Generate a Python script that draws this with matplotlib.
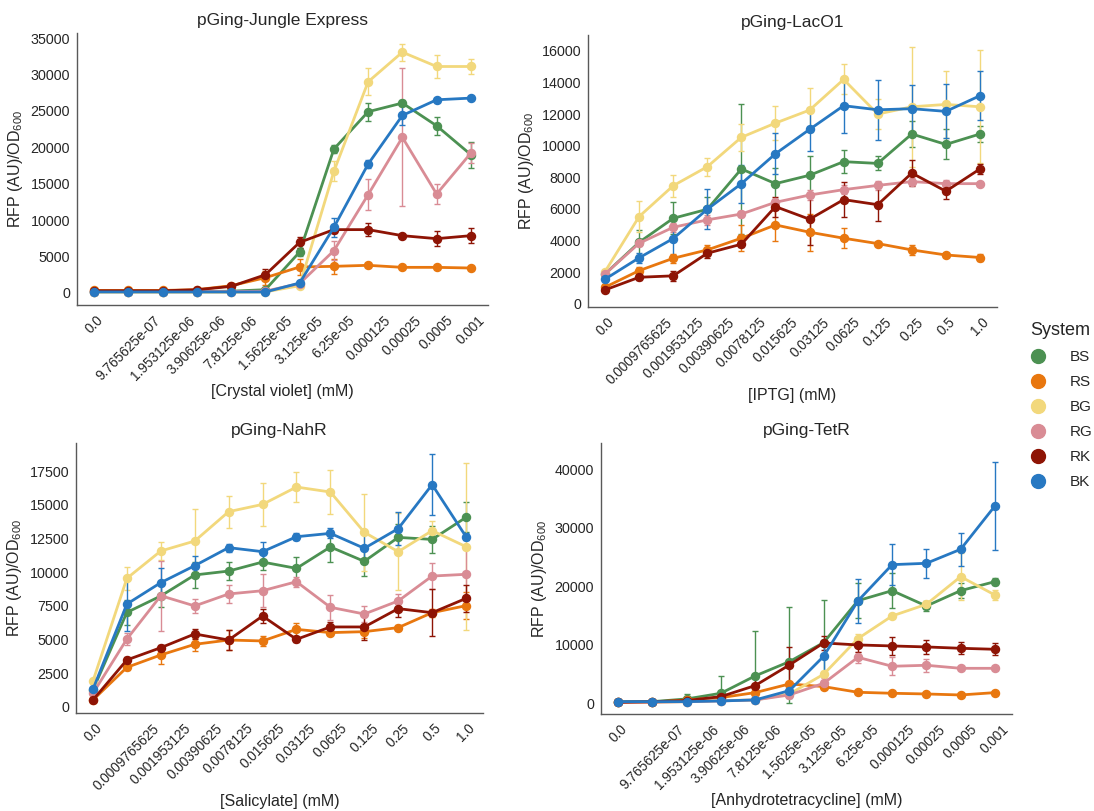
import numpy as np
import matplotlib
matplotlib.use("Agg")
import matplotlib.pyplot as plt
from matplotlib.lines import Line2D

plt.rcParams['font.family'] = ['Liberation Sans', 'DejaVu Sans']
plt.rcParams['mathtext.fontset'] = 'custom'
plt.rcParams['mathtext.rm'] = 'Liberation Sans'
plt.rcParams['text.color'] = '0.15'
plt.rcParams['axes.labelcolor'] = '0.15'
plt.rcParams['xtick.color'] = '0.15'
plt.rcParams['ytick.color'] = '0.15'

systems = ['BS', 'RS', 'BG', 'RG', 'RK', 'BK']
colors = ['#4c9152', '#e8770f', '#f2d87c', '#d98c95', '#8e1405', '#2778c2']

cv_ticks = ['0.0', '9.765625e-07', '1.953125e-06', '3.90625e-06', '7.8125e-06',
            '1.5625e-05', '3.125e-05', '6.25e-05', '0.000125', '0.00025', '0.0005', '0.001']
mm_ticks = ['0.0', '0.0009765625', '0.001953125', '0.00390625', '0.0078125',
            '0.015625', '0.03125', '0.0625', '0.125', '0.25', '0.5', '1.0']

# pGing-Jungle Express (crystal violet)
jungle_mean = [
    [200, 200, 200, 200, 250, 450, 5630, 19760, 24890, 26080, 22960, 18990],
    [350, 350, 350, 450, 1000, 2100, 3570, 3660, 3800, 3520, 3520, 3430],
    [100, 100, 100, 100, 100, 150, 1000, 16700, 29000, 33070, 31100, 31100],
    [200, 200, 200, 200, 200, 250, 1300, 5810, 13500, 21370, 13590, 19210],
    [300, 300, 300, 450, 900, 2500, 6950, 8700, 8700, 7870, 7460, 7870],
    [140, 140, 140, 140, 140, 140, 1370, 9010, 17700, 24380, 26530, 26760],
]
jungle_err = [
    [50, 50, 50, 50, 50, 150, 500, 500, 1250, 400, 1250, 1800],
    [50, 50, 50, 50, 200, 950, 1150, 1000, 100, 100, 100, 100],
    [50, 50, 50, 50, 50, 50, 200, 1370, 1870, 1160, 1600, 1030],
    [50, 50, 50, 50, 50, 50, 200, 1300, 2150, 9460, 1370, 1370],
    [50, 50, 50, 50, 200, 730, 730, 500, 910, 200, 1000, 1000],
    [50, 50, 50, 50, 50, 50, 300, 1300, 600, 1370, 200, 200],
]

# pGing-LacO1 (IPTG)
laco_mean = [
    [1890, 3890, 5410, 5980, 8530, 7600, 8130, 8990, 8880, 10740, 10080, 10740],
    [1050, 2100, 2880, 3410, 4150, 4990, 4530, 4150, 3810, 3410, 3090, 2930],
    [2040, 5520, 7470, 8670, 10530, 11430, 12250, 14190, 12000, 12460, 12610, 12460],
    [1890, 3830, 4840, 5310, 5680, 6420, 6880, 7220, 7490, 7730, 7600, 7600],
    [880, 1680, 1770, 3200, 3770, 6150, 5350, 6590, 6270, 8270, 7120, 8530],
    [1560, 2910, 4130, 5980, 7600, 9490, 11030, 12530, 12270, 12340, 12170, 13160],
]
laco_err = [
    [100, 780, 1000, 800, 4100, 1000, 1200, 740, 440, 850, 950, 500],
    [100, 200, 300, 300, 840, 990, 1160, 630, 100, 320, 100, 200],
    [100, 990, 700, 570, 840, 1100, 1400, 950, 950, 3780, 2100, 3570],
    [100, 200, 300, 300, 200, 200, 300, 300, 300, 200, 200, 100],
    [150, 150, 300, 300, 150, 630, 1600, 1100, 1050, 820, 500, 300],
    [100, 300, 1370, 1260, 1200, 1300, 1370, 1750, 1900, 1500, 1700, 1550],
]

# pGing-NahR (salicylate)
nahr_mean = [
    [1240, 7000, 8220, 9780, 10070, 10740, 10270, 11860, 10790, 12570, 12420, 14060],
    [500, 2920, 3840, 4630, 4950, 4880, 5740, 5500, 5570, 5870, 6980, 7500],
    [1900, 9530, 11560, 12300, 14480, 15020, 16310, 15940, 12950, 11510, 13070, 11880],
    [990, 5020, 8240, 7480, 8370, 8610, 9280, 7380, 6880, 7850, 9700, 9830],
    [500, 3470, 4380, 5400, 4950, 6730, 5000, 5920, 5920, 7280, 6980, 8040],
    [1290, 7620, 9210, 10470, 11810, 11510, 12620, 12870, 11760, 13220, 16490, 12620],
]
nahr_err = [
    [100, 900, 800, 990, 700, 600, 870, 1110, 1110, 1000, 990, 1110],
    [100, 200, 700, 500, 740, 370, 500, 200, 500, 200, 300, 990],
    [150, 870, 670, 2400, 1190, 1600, 1110, 1600, 2850, 2850, 740, 6200],
    [100, 450, 2600, 500, 700, 1240, 370, 940, 620, 500, 990, 2000],
    [100, 200, 200, 370, 740, 500, 200, 370, 1000, 620, 1730, 1000],
    [100, 1980, 1110, 740, 300, 740, 250, 370, 1100, 1240, 2280, 250],
]

# pGing-TetR (anhydrotetracycline)
tetr_mean = [
    [280, 280, 740, 1710, 4670, 7110, 10360, 17520, 19230, 16610, 19230, 20770],
    [170, 170, 570, 970, 1820, 3300, 2850, 1880, 1710, 1590, 1420, 1820],
    [170, 170, 280, 460, 570, 1590, 4950, 11040, 14910, 16900, 21620, 18490],
    [170, 170, 280, 400, 570, 1420, 3410, 7850, 6320, 6490, 5970, 5970],
    [170, 280, 460, 1140, 3020, 6540, 10300, 9960, 9790, 9620, 9390, 9220],
    [280, 280, 280, 400, 570, 2160, 8020, 17470, 23670, 23900, 26290, 33680],
]
tetr_err = [
    [100, 100, 850, 3000, 7700, 9400, 7300, 3000, 3000, 850, 1250, 570],
    [100, 100, 100, 200, 300, 300, 200, 200, 200, 200, 200, 200],
    [100, 100, 100, 100, 100, 300, 500, 850, 300, 300, 4000, 850],
    [100, 100, 100, 100, 100, 300, 850, 970, 1500, 1140, 300, 300],
    [100, 100, 100, 300, 1400, 3000, 1140, 1140, 1500, 1140, 1020, 1020],
    [100, 100, 100, 100, 100, 1200, 2850, 3700, 3500, 2450, 2850, 7500],
]

panels = [
    ('pGing-Jungle Express', '[Crystal violet] (mM)', cv_ticks, jungle_mean, jungle_err,
     [77, 33, 488, 305], (-1650, 35700)),
    ('pGing-LacO1', '[IPTG] (mM)', mm_ticks, laco_mean, laco_err,
     [588, 35, 997, 307], (-200, 17000)),
    ('pGing-NahR', '[Salicylate] (mM)', mm_ticks, nahr_mean, nahr_err,
     [76, 443, 483, 713], (-470, 19580)),
    ('pGing-TetR', '[Anhydrotetracycline] (mM)', cv_ticks, tetr_mean, tetr_err,
     [601, 443, 1012, 714], (-1830, 44440)),
]

W, H = 1094, 811
fig = plt.figure(figsize=(W / 100, H / 100), dpi=100)

for title, xlabel, ticks, means, errs, box, ylim in panels:
    l, t, r, b = box
    ax = fig.add_axes([l / W, 1 - b / H, (r - l) / W, (b - t) / H])
    x = np.arange(len(ticks))
    for name, col, m, e in zip(systems, colors, means, errs):
        m = np.array(m, dtype=float)
        e = np.array(e, dtype=float)
        # intervals don't go below zero
        yerr = [np.minimum(e, m), e]
        ax.errorbar(x, m, yerr=yerr, color=col, lw=2, marker='o', ms=5.8,
                    elinewidth=1, capsize=2.5, capthick=1, ecolor=col, label=name)
    ax.set_xlim(-0.5, len(ticks) - 0.5)
    ax.set_ylim(*ylim)
    ax.set_xticks(x)
    ax.set_xticklabels(ticks, rotation=45, ha='center', fontsize=9.8)
    ax.tick_params(axis='y', length=0, labelsize=10.3, pad=5)
    ax.tick_params(axis='x', length=0, pad=6)
    ax.set_title(title, fontsize=12.5, pad=6)
    ax.set_xlabel(xlabel, fontsize=11.5, labelpad=1)
    ax.set_ylabel(r'RFP (AU)/OD$_{600}$', fontsize=11.5)
    for side in ['top', 'right']:
        ax.spines[side].set_visible(False)
    for side in ['left', 'bottom']:
        ax.spines[side].set_color('0.35')
        ax.spines[side].set_linewidth(1)

handles = [Line2D([], [], ls='none', marker='o', ms=10, color=c) for c in colors]
leg = fig.legend(handles, systems, title='System', loc='center left',
                 bbox_to_anchor=(0.929, 0.5), frameon=False, fontsize=11,
                 title_fontsize=13, handlelength=1.0, handletextpad=1.6,
                 labelspacing=0.72)
leg._legend_box.align = 'left'

fig.savefig('out.png', dpi=100)
